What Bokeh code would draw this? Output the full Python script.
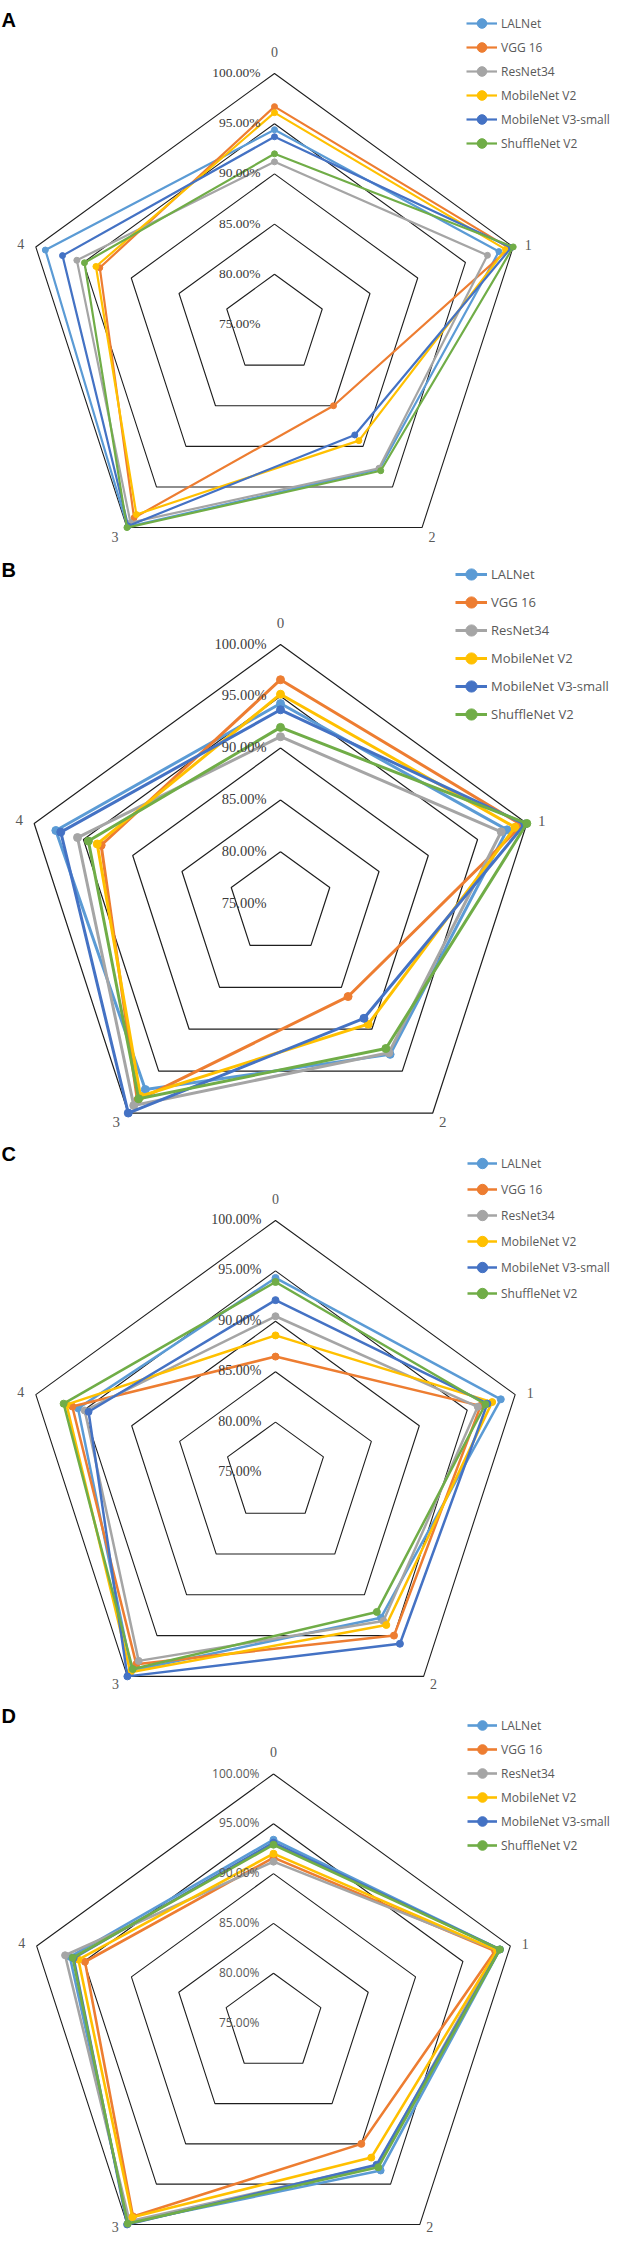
import numpy as np
from bokeh.plotting import figure
from bokeh.layouts import column
from bokeh.models import Range1d, Legend, LegendItem, ColumnDataSource
from bokeh.core.properties import value
from bokeh.embed import file_html
from bokeh.resources import INLINE

# ---------------- data ----------------
axis_labels = ["0", "1", "2", "3", "4"]
ring_values = [75, 80, 85, 90, 95, 100]
models = ["LALNet", "VGG 16", "ResNet34", "MobileNet V2", "MobileNet V3-small", "ShuffleNet V2"]
colors = ["#5B9BD5", "#ED7D31", "#A5A5A5", "#FFC000", "#4472C4", "#70AD47"]

# panel A (values in %, axes 0..4)
A_LALNet = [94.4, 98.5, 92.8, 99.9, 99.0]
A_VGG16 = [96.7, 99.6, 85.0, 98.8, 93.3]
A_ResNet34 = [91.2, 97.3, 92.7, 99.4, 95.7]
A_MobileNetV2 = [96.1, 99.2, 89.3, 98.4, 93.7]
A_MobileNetV3 = [93.7, 99.8, 88.6, 99.8, 97.2]
A_ShuffleNetV2 = [92.0, 100.0, 93.0, 100.0, 94.9]

# panel B
B_LALNet = [94.3, 98.0, 93.0, 97.2, 97.8]
B_VGG16 = [96.6, 99.5, 86.1, 98.5, 93.2]
B_ResNet34 = [91.1, 97.4, 92.8, 99.1, 95.6]
B_MobileNetV2 = [95.2, 98.8, 89.4, 98.0, 93.6]
B_MobileNetV3 = [93.7, 99.8, 88.7, 100.0, 97.3]
B_ShuffleNetV2 = [92.0, 100.0, 92.3, 98.3, 94.5]

# panel C
C_LALNet = [94.3, 98.5, 92.8, 99.3, 95.6]
C_VGG16 = [86.5, 96.4, 95.0, 98.5, 96.2]
C_ResNet34 = [90.5, 96.1, 93.2, 98.1, 94.9]
C_MobileNetV2 = [88.6, 97.6, 93.7, 99.5, 96.8]
C_MobileNetV3 = [92.1, 97.1, 96.0, 100.0, 94.5]
C_ShuffleNetV2 = [93.9, 96.9, 92.1, 99.1, 97.1]

# panel D
D_LALNet = [93.4, 98.9, 93.3, 99.8, 96.5]
D_VGG16 = [91.6, 98.4, 90.0, 99.0, 94.9]
D_ResNet34 = [91.2, 98.6, 92.7, 99.6, 97.0]
D_MobileNetV2 = [92.0, 98.6, 91.7, 99.1, 95.6]
D_MobileNetV3 = [93.1, 98.9, 92.6, 100.0, 96.1]
D_ShuffleNetV2 = [92.9, 98.9, 92.9, 99.9, 96.2]

panel_data = {
    "A": [A_LALNet, A_VGG16, A_ResNet34, A_MobileNetV2, A_MobileNetV3, A_ShuffleNetV2],
    "B": [B_LALNet, B_VGG16, B_ResNet34, B_MobileNetV2, B_MobileNetV3, B_ShuffleNetV2],
    "C": [C_LALNet, C_VGG16, C_ResNet34, C_MobileNetV2, C_MobileNetV3, C_ShuffleNetV2],
    "D": [D_LALNet, D_VGG16, D_ResNet34, D_MobileNetV2, D_MobileNetV3, D_ShuffleNetV2],
}

# ---------------- layout / style ----------------
X0, X1 = 8, 621   # visible page span in reference pixels
panels = [
    dict(letter="A", top=8, bottom=557, cx=282, cy=332, R=251, lw=2.2, ms=6, gw=1.1,
         ring_font="Liberation Serif", ring_size="13.5px", ring_color="#3a3a3a",
         cat_size="14px", bot_dy=9, leg_x=474, leg_y0=31, pitch=24, glyph=31,
         leg_size="12px", letter_base=27),
    dict(letter="B", top=557, bottom=1138, cx=288, cy=911, R=259, lw=3.0, ms=8, gw=1.2,
         ring_font="Liberation Serif", ring_size="14.5px", ring_color="#3a3a3a",
         cat_size="15px", bot_dy=9, leg_x=463, leg_y0=582, pitch=28, glyph=32,
         leg_size="13px", letter_base=577),
    dict(letter="C", top=1138, bottom=1700, cx=283, cy=1480, R=252, lw=2.5, ms=7, gw=1.1,
         ring_font="Liberation Serif", ring_size="14px", ring_color="#3a3a3a",
         cat_size="14px", bot_dy=8, leg_x=475, leg_y0=1171, pitch=26, glyph=30,
         leg_size="12px", letter_base=1161),
    dict(letter="D", top=1700, bottom=2244, cx=281, cy=2030.5, R=249, lw=2.6, ms=7, gw=1.1,
         ring_font="Open Sans", ring_size="12px", ring_color="#595959",
         cat_size="14px", bot_dy=3, leg_x=475, leg_y0=1733, pitch=24, glyph=30,
         leg_size="12px", letter_base=1723),
]

theta = np.deg2rad(90 - 72 * np.arange(5))

figs = []
for g in panels:
    k = g["R"] / 25.0
    h = g["bottom"] - g["top"]
    p = figure(width=X1 - X0, height=h,
               x_range=Range1d((X0 - g["cx"]) / k, (X1 - g["cx"]) / k),
               y_range=Range1d((g["cy"] - g["bottom"]) / k, (g["cy"] - g["top"]) / k),
               output_backend="svg", toolbar_location=None,
               x_axis_type=None, y_axis_type=None, min_border=0,
               outline_line_color=None, background_fill_color="white",
               border_fill_color="white")
    p.grid.visible = False

    # rings
    for v in ring_values[1:]:
        r = v - 75
        xs = list(r * np.cos(theta)) + [r * np.cos(theta[0])]
        ys = list(r * np.sin(theta)) + [r * np.sin(theta[0])]
        p.line(xs, ys, line_color="#1e1e1e", line_width=g["gw"])

    # series
    items = []
    for name, col, vals in zip(models, colors, panel_data[g["letter"]]):
        r = np.array(vals) - 75
        xs = r * np.cos(theta)
        ys = r * np.sin(theta)
        lr = p.line(list(xs) + [xs[0]], list(ys) + [ys[0]], line_color=col,
                    line_width=g["lw"], line_join="round")
        sr = p.scatter(xs, ys, size=g["ms"], fill_color=col, line_color=col)
        items.append(LegendItem(label=name, renderers=[lr, sr]))

    # ring labels
    p.text(x=[0] * len(ring_values), y=[v - 75 for v in ring_values],
           text=[f"{v:.2f}%" for v in ring_values], x_offset=-14, y_offset=-1,
           text_align="right", text_baseline="middle",
           text_font=value(g["ring_font"]), text_font_size=g["ring_size"],
           text_color=g["ring_color"])

    # category labels
    bd = g["bot_dy"]
    src = ColumnDataSource(dict(x=25 * np.cos(theta), y=25 * np.sin(theta),
                                t=axis_labels, dx=[0, 15, 10, -12, -15],
                                dy=[-22, -2, bd, bd, -3]))
    p.text(x="x", y="y", text="t", x_offset="dx", y_offset="dy", source=src,
           text_align="center", text_baseline="middle",
           text_font=value("Liberation Serif"), text_font_size=g["cat_size"],
           text_color="#595959")

    # panel letter
    p.text(x=[(X0 + 1 - g["cx"]) / k], y=[(g["cy"] - g["letter_base"]) / k], text=[g["letter"]],
           text_align="left", text_baseline="alphabetic",
           text_font=value("Liberation Sans"), text_font_style="bold",
           text_font_size="20px", text_color="#000000")

    # legend
    pitch = g["pitch"]
    leg_top = g["leg_y0"] - pitch / 2
    leg_bottom = leg_top + 6 * pitch
    legend = Legend(items=items, location=(g["leg_x"] - X0, g["bottom"] - leg_bottom),
                    orientation="vertical", padding=0, margin=0, spacing=0,
                    glyph_width=g["glyph"], glyph_height=pitch, label_height=pitch,
                    label_standoff=4, label_text_font="Open Sans",
                    label_text_font_size=g["leg_size"], label_text_color="#595959",
                    border_line_alpha=0, background_fill_alpha=0)
    p.add_layout(legend)
    figs.append(p)

layout = column(*figs, spacing=0)
open("out.html", "w").write(file_html(layout, INLINE))
